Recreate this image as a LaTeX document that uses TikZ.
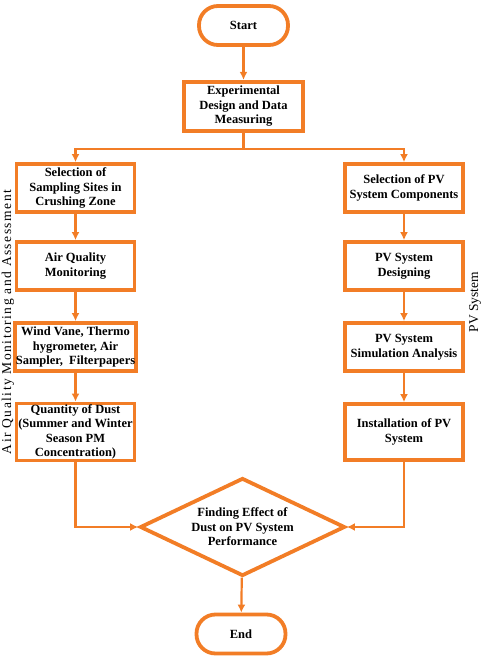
\documentclass[tikz,border=0pt]{standalone}
\usepackage{fontspec}
\setmainfont{Liberation Serif}
\usetikzlibrary{shapes.geometric, arrows.meta}

\definecolor{flowOrange}{RGB}{242,125,38}

\begin{document}
\begin{tikzpicture}[%
        x = 1pt,
        y = -1pt,
        procbox/.style = {%
            draw = flowOrange,
            line width = 3.8pt,
            fill = white,
            align = center,
            inner sep = 1pt,
            minimum width = 118pt,
            minimum height = 48pt,
            font = \fontsize{12.5}{14.5}\selectfont\bfseries,
        },
        termbox/.style = {%
            procbox,
            rounded corners = 19pt,
            minimum width = 89pt,
            minimum height = 39pt,
        },
        decbox/.style = {%
            diamond,
            draw = flowOrange,
            line width = 3.8pt,
            align = center,
            inner sep = 0pt,
            aspect = 2.05,
            minimum width = 205pt,
            minimum height = 98pt,
            font = \fontsize{12.5}{14.5}\selectfont\bfseries,
        },
        flowarrow/.style = {%
            draw = flowOrange,
            line width = 2.2pt,
            -{Latex[length = 8pt, width = 8pt]},
        },
        sidelabel/.style = {%
            rotate = 90,
            inner sep = 0pt,
            font = \fontsize{13.5}{15}\selectfont,
        },
    ]

        % keep the page the size of the reference
        \useasboundingbox (0, 0) rectangle (484, 659);

        % top of the chart
        \node[termbox] (start) at (243.5, 25.5) {Start};
        \node[procbox, minimum width = 119.5pt, minimum height = 49.5pt] (design) at (243.5, 106.5)
            {Experimental\\Design and Data\\Measuring};
        \coordinate (fork) at (243.5, 149);

        % left column: air quality
        \node[procbox] (sites) at (75.5, 188) {Selection of\\Sampling Sites in\\Crushing Zone};
        \node[procbox] (airq) at (75.5, 266) {Air Quality\\Monitoring};
        \node[procbox] (tools) at (75.5, 347) {Wind Vane, Thermo\\hygrometer, Air\\Sampler,\ \ Filterpapers};
        \node[procbox, minimum height = 56pt] (dust) at (75.5, 432)
            {Quantity of Dust\\(Summer and Winter\\Season PM\\Concentration)};

        % right column: pv system
        \node[procbox] (pvsel) at (404, 188) {Selection of PV\\System Components};
        \node[procbox] (pvdes) at (404, 266) {PV System\\Designing};
        \node[procbox] (pvsim) at (404, 347) {PV System\\Simulation Analysis};
        \node[procbox, minimum height = 56pt] (pvinst) at (404, 432) {Installation of PV\\System};

        % bottom of the chart
        \node[decbox] (effect) at (242.5, 527) {Finding Effect of\\Dust on PV System\\Performance};
        \node[termbox] (stop) at (241, 634) {End};

        % side texts
        \node[sidelabel, font = \fontsize{13.5}{15}\selectfont\addfontfeature{LetterSpace = 11}] (airlabel) at (8, 322)
            {Air Quality Monitoring and Assessment};
        \node[sidelabel] (pvlabel) at (475, 302) {PV System};

        % connectors
        \draw[flowarrow] (start) -- (design);
        \draw[flowarrow, -] (design) -- (fork);
        \draw[flowarrow] (fork) -| (sites);
        \draw[flowarrow] (fork) -| (pvsel);
        \draw[flowarrow] (sites) -- (airq);
        \draw[flowarrow] (airq) -- (tools);
        \draw[flowarrow] (tools) -- (dust);
        \draw[flowarrow] (pvsel) -- (pvdes);
        \draw[flowarrow] (pvdes) -- (pvsim);
        \draw[flowarrow] (pvsim) -- (pvinst);
        \draw[flowarrow] (dust) |- (effect);
        \draw[flowarrow] (pvinst) |- (effect);
        \draw[flowarrow] (effect) -- (stop);
    \end{tikzpicture}
\end{document}
